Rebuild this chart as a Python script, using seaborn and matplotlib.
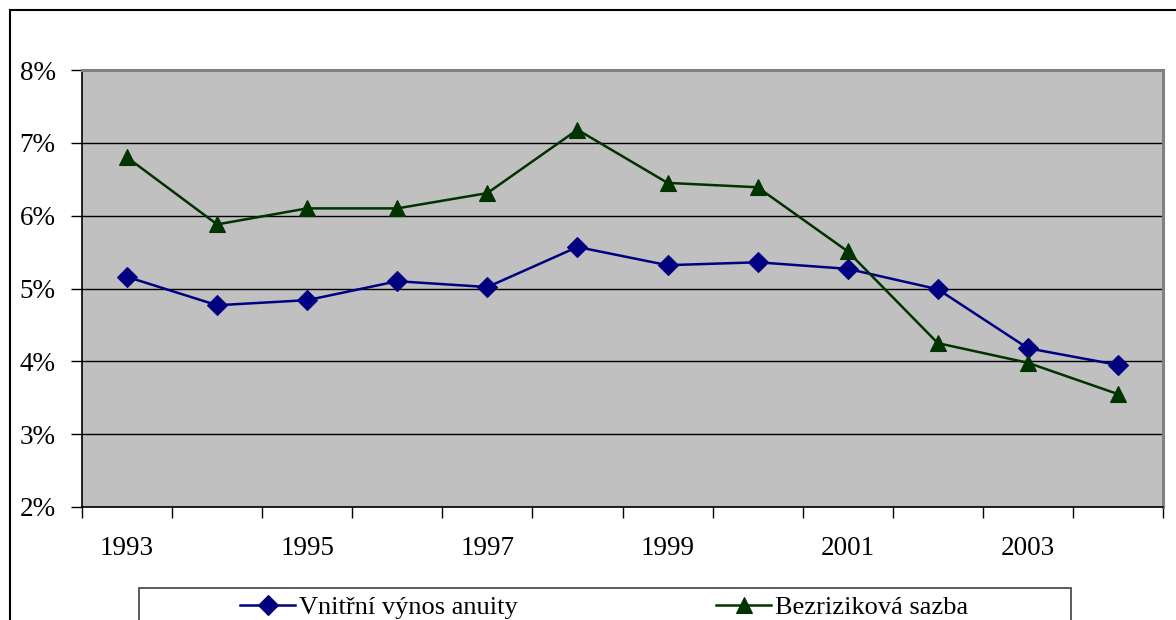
import matplotlib
matplotlib.use("Agg")
import matplotlib.pyplot as plt
from matplotlib.patches import Rectangle
from matplotlib.ticker import FixedLocator, PercentFormatter
import seaborn as sns
import pandas as pd
import numpy as np

years = [1993, 1994, 1995, 1996, 1997, 1998, 1999, 2000, 2001, 2002, 2003, 2004]
irr_annuity = [5.16, 4.77, 4.84, 5.10, 5.02, 5.57, 5.32, 5.36, 5.27, 4.99, 4.18, 3.95]
risk_free = [6.80, 5.88, 6.10, 6.10, 6.31, 7.18, 6.45, 6.39, 5.51, 4.25, 3.98, 3.55]
series_names = ["Vnitřní výnos anuity", "Bezriziková sazba"]
label_years = ["1993", "1995", "1997", "1999", "2001", "2003"]

idx = np.arange(len(years))
df = pd.DataFrame({
    "pos": np.concatenate([idx, idx]),
    "value": np.array(irr_annuity + risk_free) / 100.0,
    "series": [series_names[0]] * len(years) + [series_names[1]] * len(years),
})

plt.rcParams["font.family"] = ["Liberation Serif", "DejaVu Serif"]
FS = 19.5
LFS = 19

fig = plt.figure(figsize=(11.76, 6.2), dpi=100)
W, H = 1176, 620
ax = fig.add_axes([82 / W, 1 - 507 / H, (1163 - 82) / W, (507 - 70) / H])
ax.set_facecolor("#C0C0C0")

palette = {series_names[0]: "#000080", series_names[1]: "#003300"}
markers = {series_names[0]: "D", series_names[1]: "^"}
sizes_ms = {series_names[0]: 10, series_names[1]: 12}

for name in series_names:
    sub = df[df["series"] == name]
    sns.lineplot(data=sub, x="pos", y="value", ax=ax, color=palette[name],
                 marker=markers[name], markersize=sizes_ms[name],
                 markeredgecolor=palette[name], markeredgewidth=0.8,
                 linewidth=1.8, label=name, legend=False, zorder=3)

ax.set_xlim(-0.5, len(years) - 0.5)
ax.set_ylim(0.02, 0.08)
ax.yaxis.set_major_locator(FixedLocator(np.arange(0.02, 0.081, 0.01)))
ax.yaxis.set_major_formatter(PercentFormatter(1.0, decimals=0))
ax.grid(axis="y", color="black", linewidth=1.0, zorder=1)
ax.set_axisbelow(True)

# category boundary ticks without labels, year labels every second category
ax.set_xticks(np.arange(-0.5, len(years), 1.0))
ax.set_xticklabels([])
ax.set_xticks(np.arange(0, len(years), 2), minor=True)
ax.set_xticklabels(label_years, minor=True)
ax.tick_params(axis="x", which="major", length=8, width=1, direction="out", color="black")
ax.tick_params(axis="x", which="minor", length=0, pad=21, labelsize=FS)
ax.tick_params(axis="y", length=8, width=1, direction="out", pad=11, labelsize=FS)
ax.set_xlabel("")
ax.set_ylabel("")

for side in ("left", "bottom"):
    ax.spines[side].set_color("black")
    ax.spines[side].set_linewidth(1.2)
for side in ("top", "right"):
    ax.spines[side].set_color("#808080")
    ax.spines[side].set_linewidth(2.2)

# outer chart frame
fig.patches.append(Rectangle((10 / W, -0.1), 1.2, 1 - 10 / H + 0.1, transform=fig.transFigure,
                             fill=False, edgecolor="black", linewidth=1.5))
# legend frame
fig.patches.append(Rectangle((139 / W, -0.1), (1071 - 139) / W, 1 - 588 / H + 0.1,
                             transform=fig.transFigure, facecolor="white",
                             edgecolor="#404040", linewidth=1.2))

handles, labels = ax.get_legend_handles_labels()
fig.legend(handles, labels, loc="center left", bbox_to_anchor=(240 / W, 1 - 607 / H),
           ncol=2, frameon=False, fontsize=LFS, handlelength=2.1, handletextpad=0.15,
           columnspacing=7.5, borderpad=0, borderaxespad=0)

fig.savefig("out.png", dpi=100)
